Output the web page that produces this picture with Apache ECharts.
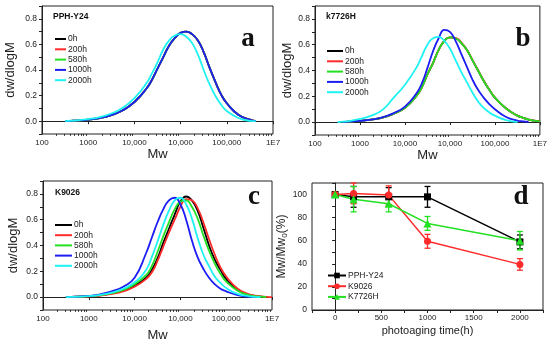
<!DOCTYPE html>
<html><head><meta charset="utf-8">
<script src="https://cdn.jsdelivr.net/npm/echarts@6/dist/echarts.min.js"></script>
<style>html,body{margin:0;padding:0;background:#fff}#c{width:550px;height:348px}</style>
</head><body><div id="c"></div>
<script>
// ---- data ----
const tickLabelsX = ['100', '1000', '10,000', '10,000', '100,000', '1E7'];
const seriesNames = ['0h', '200h', '580h', '1000h', '2000h'];
const colors = ['#000000', '#ff2a2a', '#22e022', '#1c1cf5', '#1ef2f2'];
const mw = [316, 422, 562, 1000, 1778, 3162, 5623, 10000, 17783, 23714, 31623, 42170, 56234, 74989, 100000, 133352, 177828, 237137, 316228, 421697, 562341, 749894, 1000000, 1778279, 3162278, 4216965, 5623413, 7498942, 10000000];

// panel a (PPH-Y24)
const a_0h    = [0, 0.003, 0.005, 0.012, 0.025, 0.048, 0.085, 0.15, 0.25, 0.32, 0.41, 0.50, 0.59, 0.65, 0.69, 0.70, 0.68, 0.63, 0.54, 0.42, 0.31, 0.21, 0.14, 0.05, 0.012, 0, null, null, null];
const a_200h  = [0, 0.003, 0.005, 0.012, 0.025, 0.048, 0.085, 0.15, 0.25, 0.32, 0.41, 0.50, 0.59, 0.65, 0.69, 0.70, 0.68, 0.63, 0.54, 0.42, 0.31, 0.21, 0.14, 0.05, 0.013, 0.002, null, null, null];
const a_580h  = [0, 0.003, 0.005, 0.012, 0.025, 0.048, 0.085, 0.15, 0.25, 0.32, 0.41, 0.50, 0.59, 0.65, 0.69, 0.70, 0.68, 0.63, 0.54, 0.42, 0.31, 0.21, 0.14, 0.05, 0.012, 0, null, null, null];
const a_1000h = [0, 0.003, 0.005, 0.012, 0.025, 0.048, 0.085, 0.15, 0.25, 0.32, 0.41, 0.50, 0.59, 0.65, 0.69, 0.70, 0.68, 0.63, 0.54, 0.42, 0.31, 0.21, 0.14, 0.05, 0.012, 0, null, null, null];
const a_2000h = [0, 0.004, 0.006, 0.016, 0.032, 0.06, 0.105, 0.18, 0.29, 0.37, 0.46, 0.56, 0.63, 0.67, 0.68, 0.66, 0.61, 0.52, 0.40, 0.29, 0.20, 0.13, 0.08, 0.025, 0.003, 0, null, null, null];

// panel b (k7726H)
const b_0h    = [null, 0, 0.003, 0.01, 0.02, 0.035, 0.065, 0.11, 0.20, 0.27, 0.37, 0.46, 0.56, 0.63, 0.657, 0.65, 0.615, 0.56, 0.48, 0.40, 0.32, 0.25, 0.19, 0.105, 0.05, 0.033, 0.02, 0.011, 0.005];
const b_200h  = [null, 0, 0.003, 0.01, 0.02, 0.035, 0.065, 0.11, 0.20, 0.27, 0.37, 0.46, 0.56, 0.63, 0.657, 0.652, 0.618, 0.562, 0.482, 0.402, 0.322, 0.252, 0.19, 0.105, 0.05, 0.033, 0.02, 0.011, 0.005];
const b_580h  = [null, 0, 0.003, 0.01, 0.02, 0.035, 0.065, 0.11, 0.20, 0.27, 0.37, 0.46, 0.56, 0.63, 0.657, 0.65, 0.615, 0.56, 0.48, 0.40, 0.32, 0.25, 0.19, 0.105, 0.05, 0.033, 0.02, 0.011, 0.005];
const b_1000h = [null, 0, 0.003, 0.01, 0.02, 0.037, 0.07, 0.12, 0.22, 0.30, 0.42, 0.55, 0.65, 0.715, 0.70, 0.63, 0.53, 0.43, 0.33, 0.25, 0.19, 0.14, 0.10, 0.04, 0.012, 0.005, 0, null, null];
const b_2000h = [0, 0.004, 0.008, 0.025, 0.05, 0.095, 0.19, 0.29, 0.42, 0.51, 0.60, 0.65, 0.66, 0.63, 0.57, 0.48, 0.39, 0.31, 0.23, 0.16, 0.11, 0.075, 0.05, 0.015, 0, null, null, null, null];

// panel c (K9026)
const c_0h    = [0, 0.002, 0.003, 0.007, 0.014, 0.028, 0.05, 0.09, 0.15, 0.21, 0.30, 0.42, 0.53, 0.64, 0.74, 0.78, 0.75, 0.67, 0.54, 0.40, 0.29, 0.21, 0.14, 0.055, 0.018, 0.009, 0.004, 0, null];
const c_200h  = [0, 0.002, 0.003, 0.006, 0.012, 0.025, 0.045, 0.08, 0.14, 0.19, 0.28, 0.39, 0.50, 0.60, 0.70, 0.76, 0.75, 0.69, 0.58, 0.45, 0.33, 0.23, 0.16, 0.065, 0.022, 0.012, 0.006, 0.002, 0];
const c_580h  = [0, 0.002, 0.003, 0.007, 0.015, 0.03, 0.055, 0.10, 0.17, 0.24, 0.35, 0.47, 0.58, 0.68, 0.74, 0.75, 0.70, 0.61, 0.48, 0.36, 0.26, 0.18, 0.12, 0.05, 0.015, 0.007, 0.003, 0, null];
const c_1000h = [0, 0.002, 0.004, 0.01, 0.022, 0.045, 0.08, 0.15, 0.34, 0.46, 0.58, 0.68, 0.75, 0.77, 0.72, 0.60, 0.44, 0.31, 0.22, 0.15, 0.10, 0.065, 0.045, 0.015, 0.003, 0, null, null, null];
const c_2000h = [0, 0.002, 0.003, 0.008, 0.018, 0.035, 0.065, 0.115, 0.21, 0.31, 0.43, 0.56, 0.67, 0.75, 0.77, 0.72, 0.61, 0.46, 0.33, 0.24, 0.16, 0.11, 0.07, 0.025, 0.006, 0.002, 0, null, null];

// panel d
const d_time = [0, 200, 580, 1000, 2000];
const d_names = ['PPH-Y24', 'K9026', 'K7726H'];
const d_colors = ['#000000', '#ff2a2a', '#22e022'];
const d_symbols = ['rect', 'circle', 'triangle'];
const d_pph = [100, 98, 98, 98, 59];
const d_pph_err = [0.5, 9, 8, 9, 6];
const d_k9026 = [100, 101, 99.5, 59.5, 39.5];
const d_k9026_err = [0.5, 9, 8, 6, 5];
const d_k7726 = [100, 96, 92, 75, 60];
const d_k7726_err = [0.5, 11, 7, 6, 8];

// ---- build ----
const panels = [
  [a_0h, a_200h, a_580h, a_1000h, a_2000h],
  [b_0h, b_200h, b_580h, b_1000h, b_2000h],
  [c_0h, c_200h, c_580h, c_1000h, c_2000h]
];
const minorTicks = [];
for (let e = 2; e < 7; e++) for (let k = 2; k <= 9; k++) minorTicks.push(k * Math.pow(10, e));

const FONT = 'Liberation Sans, Arial, sans-serif';
const gridDefs = [
  {left: 42, top: 6, width: 231, height: 128},
  {left: 315, top: 6, width: 229, height: 129},
  {left: 43, top: 181, width: 229, height: 129},
  {left: 312, top: 183, width: 231, height: 127}
];
const grids = gridDefs.map(g => Object.assign({show: true, borderColor: '#222', borderWidth: 1, backgroundColor: 'transparent'}, g));

const xNameGap = [12, 12, 19];
const yNameGap = [25, 21, 23];
const xAxes = [], yAxes = [], series = [];
for (let p = 0; p < 3; p++) {
  xAxes.push({
    type: 'log', logBase: 10, min: 100, max: 1e7, gridIndex: p,
    name: 'Mw', nameLocation: 'middle', nameGap: xNameGap[p],
    nameTextStyle: {fontSize: 13, color: '#222', fontFamily: FONT},
    axisLine: {lineStyle: {color: '#222', width: 1}},
    axisTick: {length: 3, lineStyle: {color: '#222'}},
    axisLabel: {fontSize: 8, color: '#222', margin: 5, fontFamily: FONT,
      formatter: v => { const i = Math.round(Math.log10(v)) - 2; return tickLabelsX[i] || ''; }},
    splitLine: {show: false}
  });
  xAxes.push({
    type: 'log', logBase: 10, min: 100, max: 1e7, gridIndex: p, position: 'bottom',
    axisLine: {show: false}, axisLabel: {show: false}, splitLine: {show: false},
    axisTick: {show: true, length: 1.8, customValues: minorTicks, lineStyle: {color: '#222'}}
  });
  yAxes.push({
    type: 'value', min: -0.1, max: 0.9, interval: 0.1, gridIndex: p,
    name: 'dw/dlogM', nameLocation: 'middle', nameRotate: 90, nameGap: yNameGap[p],
    nameTextStyle: {fontSize: 13, color: '#222', fontFamily: FONT},
    axisLine: {show: true, lineStyle: {color: '#222', width: 1}},
    axisTick: {show: true, length: 3, lineStyle: {color: '#222'}},
    axisLabel: {fontSize: 8.5, color: '#222', margin: 5, fontFamily: FONT,
      formatter: v => { const k = Math.round(v * 10); return (k >= 0 && k <= 8 && k % 2 === 0) ? (k / 10).toFixed(1) : ''; }},
    splitLine: {show: false}
  });
  panels[p].forEach((vals, si) => {
    const data = [];
    vals.forEach((v, i) => { if (v !== null) data.push([mw[i], v]); });
    series.push({
      type: 'line', name: seriesNames[si], xAxisIndex: p * 2, yAxisIndex: p,
      data, showSymbol: false, symbol: 'none', smooth: 0.5,
      lineStyle: {color: colors[si], width: 1.8}, itemStyle: {color: colors[si]}
    });
  });
}
// panel d axes
xAxes.push({
  type: 'value', min: -250, max: 2250, interval: 250, gridIndex: 3,
  name: 'photoaging time(h)', nameLocation: 'middle', nameGap: 15,
  nameTextStyle: {fontSize: 11, color: '#222', fontFamily: FONT},
  axisLine: {lineStyle: {color: '#222'}}, axisTick: {length: 3, lineStyle: {color: '#222'}},
  axisLabel: {fontSize: 8, color: '#222', margin: 4, fontFamily: FONT, showMinLabel: true, showMaxLabel: true,
    formatter: v => (v >= 0 && v <= 2000 && v % 500 === 0) ? String(v) : ''},
  splitLine: {show: false}
});
yAxes.push({
  type: 'value', min: 0, max: 110, interval: 10, gridIndex: 3,
  name: '{a|Mw/Mw}{s|0}{a|(%)}', nameLocation: 'middle', nameRotate: 90, nameGap: 16,
  nameTextStyle: {color: '#222', fontFamily: FONT,
    rich: {a: {fontSize: 12, color: '#222', fontFamily: FONT}, s: {fontSize: 8, color: '#222', fontFamily: FONT, padding: [7, 0, 0, 0]}}},
  axisLine: {show: true, lineStyle: {color: '#222'}}, axisTick: {show: true, length: 3, lineStyle: {color: '#222'}},
  axisLabel: {fontSize: 8.5, color: '#222', margin: 5, fontFamily: FONT,
    formatter: v => (v % 20 === 0 && v <= 100) ? String(v) : ''},
  splitLine: {show: false}
});
const dVals = [d_pph, d_k9026, d_k7726];
const dErrs = [d_pph_err, d_k9026_err, d_k7726_err];
dVals.forEach((vals, k) => {
  series.push({
    type: 'line', name: d_names[k], xAxisIndex: 6, yAxisIndex: 3,
    data: d_time.map((t, i) => [t, vals[i]]),
    symbol: d_symbols[k], symbolSize: k === 2 ? 8 : 7,
    lineStyle: {color: d_colors[k], width: 1.5}, itemStyle: {color: d_colors[k]}, z: 3
  });
  series.push({
    type: 'custom', name: d_names[k] + ' err', xAxisIndex: 6, yAxisIndex: 3, z: 2,
    data: d_time.map((t, i) => [t, vals[i] - dErrs[k][i], vals[i] + dErrs[k][i]]),
    encode: {x: 0, y: [1, 2]},
    renderItem: (params, api) => {
      const x = api.value(0);
      const p1 = api.coord([x, api.value(2)]);
      const p2 = api.coord([x, api.value(1)]);
      const w = 3;
      const st = {stroke: d_colors[k], lineWidth: 1.3};
      return {type: 'group', children: [
        {type: 'line', shape: {x1: p1[0], y1: p1[1], x2: p2[0], y2: p2[1]}, style: st},
        {type: 'line', shape: {x1: p1[0] - w, y1: p1[1], x2: p1[0] + w, y2: p1[1]}, style: st},
        {type: 'line', shape: {x1: p2[0] - w, y1: p2[1], x2: p2[0] + w, y2: p2[1]}, style: st}
      ]};
    }
  });
});

const legendBase = {orient: 'vertical', icon: 'rect', itemHeight: 2, textStyle: {fontSize: 8.5, color: '#222', fontFamily: FONT, lineHeight: 10, padding: [0, 0, 0, -3]}, padding: 0};
const legends = [
  Object.assign({}, legendBase, {left: 55, top: 34, itemWidth: 11, itemGap: 0.3, data: seriesNames}),
  Object.assign({}, legendBase, {left: 327, top: 46, itemWidth: 16, itemGap: 0.3, data: seriesNames}),
  Object.assign({}, legendBase, {left: 55, top: 220, itemWidth: 17, itemGap: 0.2, data: seriesNames}),
  {orient: 'vertical', padding: 0, left: 327, top: 271, itemWidth: 18, itemHeight: 7, itemGap: 1.7, data: d_names,
    textStyle: {fontSize: 8.5, color: '#222', fontFamily: FONT, padding: [0, 0, 0, -3]}}
];

const letterFont = 'bold 27px "Liberation Serif", "Times New Roman", serif';
const titleFont = 'bold 8.5px ' + FONT;
const graphic = [
  {type: 'text', left: 53, top: 12, style: {text: 'PPH-Y24', font: titleFont, fill: '#111'}},
  {type: 'text', left: 326, top: 12, style: {text: 'k7726H', font: titleFont, fill: '#111'}},
  {type: 'text', left: 55, top: 188, style: {text: 'K9026', font: titleFont, fill: '#111'}},
  {type: 'text', x: 248, y: 39, style: {text: 'a', font: letterFont, fill: '#111', align: 'center', verticalAlign: 'middle'}},
  {type: 'text', x: 523, y: 39, style: {text: 'b', font: letterFont, fill: '#111', align: 'center', verticalAlign: 'middle'}},
  {type: 'text', x: 254, y: 197, style: {text: 'c', font: letterFont, fill: '#111', align: 'center', verticalAlign: 'middle'}},
  {type: 'text', x: 521, y: 197, style: {text: 'd', font: letterFont, fill: '#111', align: 'center', verticalAlign: 'middle'}}
];

const chart = echarts.init(document.getElementById('c'), null, {renderer: 'canvas'});
chart.setOption({
  animation: false,
  textStyle: {fontFamily: FONT},
  grid: grids, xAxis: xAxes, yAxis: yAxes, series, legend: legends, graphic
});
</script></body></html>
